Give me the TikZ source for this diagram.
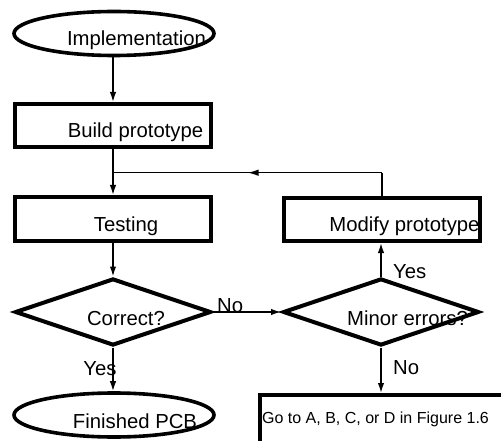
\documentclass[tikz,border=0pt]{standalone}
\usepackage{fontspec}
\setmainfont{Liberation Sans}
\usetikzlibrary{shapes.geometric,arrows.meta,decorations.markings}
\begin{document}
\begin{tikzpicture}[x=1pt,y=-1pt,
  boxnode/.style={draw, rectangle, line width=4pt, inner sep=0pt},
  ellnode/.style={draw, ellipse, line width=3.6pt, inner sep=0pt},
  dianode/.style={draw, diamond, line width=4pt, inner sep=0pt},
  lbl/.style={inner sep=0pt, anchor=base, font=\fontsize{20.3}{24}\selectfont},
  lblw/.style={inner sep=0pt, anchor=base west, font=\fontsize{20.3}{24}\selectfont},
  arr/.style={line width=1.6pt, -{Latex[length=10pt,width=6.5pt]}},
  plain/.style={line width=1.6pt},
  midarr/.style={line width=1.6pt, postaction={decorate},
    decoration={markings, mark=at position 0.5 with {\arrow{Latex[length=11pt,width=6.5pt]}}}}
]
\useasboundingbox (0,0) rectangle (501,441);
\clip (0,0) rectangle (501,441);

% shapes
\node[ellnode, minimum width=200pt, minimum height=44pt] (impl) at (114,33.5) {};
\node[boxnode, minimum width=196pt, minimum height=43pt] (build) at (113,125.5) {};
\node[boxnode, minimum width=196pt, minimum height=44pt] (test) at (113,219) {};
\node[boxnode, minimum width=196pt, minimum height=43pt] (modify) at (382,219.5) {};
\node[dianode, minimum width=196pt, minimum height=67pt] (correct) at (113,312) {};
\node[dianode, minimum width=196pt, minimum height=67pt] (minor) at (381,312) {};
\node[ellnode, minimum width=200pt, minimum height=44pt] (finished) at (114,415) {};
\node[boxnode, minimum width=280pt, minimum height=75pt] (goto) at (400,432.5) {};

% texts
\node[lbl] (timpl) at (136.5,46) {Implementation};
\node[lbl] (tbuild) at (135.5,138) {Build prototype};
\node[lbl] (ttest) at (126,231) {Testing};
\node[lbl] (tmodify) at (404.5,232) {Modify prototype};
\node[lbl] (tcorrect) at (126,325) {Correct?};
\node[lbl] (tminor) at (407.5,325) {Minor errors?};
\node[lbl] (tfinished) at (135,428) {Finished PCB};
\node[inner sep=0pt, anchor=base, font=\fontsize{16}{19}\selectfont] (tgoto) at (375.5,423) {Go to A, B, C, or D in Figure 1.6};

% connectors
\coordinate (join) at (113,172.7);
\coordinate (corner) at (modify.north |- join);
\draw[arr] (impl.south -| build.north) -- (build.north);
\draw[arr] (build.south) -- (test.north);
\draw[plain] (modify.north) -- (corner);
\draw[midarr] (corner) -- (join);
\draw[arr] (test.south) -- (correct.north);
\draw[arr] (correct.east) -- (minor.west);
\draw[arr] (correct.south) -- (finished.north -| correct.south);
\draw[arr] (minor.north) -- (minor.north |- modify.south);
\draw[arr] (minor.south) -- (minor.south |- goto.north);

% edge labels
\node[lblw] (lno1) at (217,312) {No};
\node[lbl] (lyes1) at (100,375) {Yes};
\node[lblw] (lyes2) at (393,278) {Yes};
\node[lblw] (lno2) at (393,374) {No};
\end{tikzpicture}
\end{document}
